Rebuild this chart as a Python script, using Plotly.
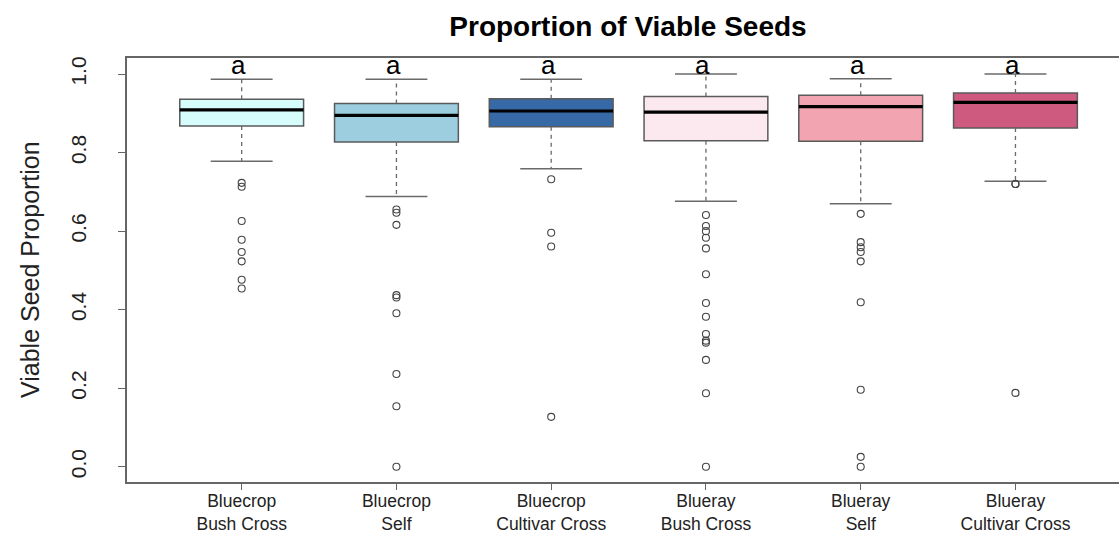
import plotly.graph_objects as go

categories = ["Bluecrop<br>Bush Cross", "Bluecrop<br>Self", "Bluecrop<br>Cultivar Cross",
              "Blueray<br>Bush Cross", "Blueray<br>Self", "Blueray<br>Cultivar Cross"]
positions = [1, 2, 3, 4, 5, 6]
q1 = [0.868, 0.827, 0.866, 0.830, 0.829, 0.863]
median = [0.909, 0.895, 0.906, 0.903, 0.917, 0.928]
q3 = [0.936, 0.925, 0.937, 0.943, 0.946, 0.952]
lower_whisker = [0.778, 0.688, 0.759, 0.676, 0.670, 0.727]
upper_whisker = [0.987, 0.987, 0.987, 1.000, 0.988, 1.000]
outliers = [
    [0.723, 0.713, 0.626, 0.578, 0.547, 0.523, 0.476, 0.454],
    [0.655, 0.647, 0.616, 0.437, 0.431, 0.391, 0.236, 0.154, 0.0],
    [0.732, 0.596, 0.561, 0.127],
    [0.641, 0.613, 0.600, 0.583, 0.556, 0.490, 0.417, 0.382, 0.338, 0.321, 0.316, 0.272, 0.187, 0.0],
    [0.644, 0.572, 0.559, 0.547, 0.523, 0.419, 0.196, 0.025, 0.0],
    [0.720, 0.720, 0.188],
]
letters = ["a", "a", "a", "a", "a", "a"]
colors = ["#D6FCFC", "#9DCEE0", "#3669A5", "#FCE9EF", "#F2A4B1", "#CF5A7F"]

SANS = "Liberation Sans, Arial, sans-serif"

fig = go.Figure()

BOX_W = 0.8
CAP_HALF = 0.2
BORDER = "#5a5a5a"

for i, p in enumerate(positions):
    fig.add_trace(go.Box(
        x=[p], q1=[q1[i]], median=[median[i]], q3=[q3[i]],
        lowerfence=[q1[i]], upperfence=[q3[i]],
        width=BOX_W, fillcolor=colors[i],
        line=dict(color=BORDER, width=1.5),
        boxpoints=False, showlegend=False, hoverinfo="skip",
    ))

# whiskers (dashed)
wx, wy = [], []
for i, p in enumerate(positions):
    wx += [p, p, None, p, p, None]
    wy += [q3[i], upper_whisker[i], None, q1[i], lower_whisker[i], None]
fig.add_trace(go.Scatter(x=wx, y=wy, mode="lines",
                         line=dict(color="#6a6a6a", width=1.3, dash="4px,4px"),
                         showlegend=False, hoverinfo="skip"))

# caps
cx, cy = [], []
for i, p in enumerate(positions):
    cx += [p - CAP_HALF, p + CAP_HALF, None, p - CAP_HALF, p + CAP_HALF, None]
    cy += [upper_whisker[i], upper_whisker[i], None, lower_whisker[i], lower_whisker[i], None]
fig.add_trace(go.Scatter(x=cx, y=cy, mode="lines",
                         line=dict(color="#6a6a6a", width=1.5),
                         showlegend=False, hoverinfo="skip"))

# medians
mx, my = [], []
for i, p in enumerate(positions):
    mx += [p - BOX_W / 2, p + BOX_W / 2, None]
    my += [median[i], median[i], None]
fig.add_trace(go.Scatter(x=mx, y=my, mode="lines",
                         line=dict(color="black", width=3.2),
                         showlegend=False, hoverinfo="skip"))

# outliers
ox, oy = [], []
for i, p in enumerate(positions):
    for v in outliers[i]:
        ox.append(p)
        oy.append(v)
fig.add_trace(go.Scatter(x=ox, y=oy, mode="markers",
                         marker=dict(symbol="circle-open", size=7, color="#444444",
                                     line=dict(width=1.1, color="#444444")),
                         showlegend=False, hoverinfo="skip"))

for i, p in enumerate(positions):
    fig.add_annotation(x=p - 0.02, y=1.022, text=letters[i], showarrow=False,
                       xanchor="center", yanchor="middle",
                       font=dict(size=26, color="black", family=SANS))

fig.add_annotation(xref="paper", yref="paper", x=0, y=0.5, xshift=-97,
                   text="Viable Seed Proportion", textangle=-90, showarrow=False,
                   xanchor="center", yanchor="middle",
                   font=dict(size=25, color="#222222", family=SANS))

fig.update_layout(
    width=1119, height=535,
    margin=dict(l=127, r=0, t=58, b=53, autoexpand=False),
    paper_bgcolor="white", plot_bgcolor="white",
    boxmode="overlay",
    title=dict(text="<b>Proportion of Viable Seeds</b>", x=628 / 1119, xanchor="center",
               y=1 - 26 / 535, yanchor="middle",
               font=dict(size=28, color="black", family=SANS)),
    font=dict(family=SANS, color="#222222"),
    xaxis=dict(range=[0.259, 6.669], tickmode="array", tickvals=positions,
               ticktext=categories, ticks="outside", ticklen=6, tickcolor="#666666",
               ticklabelstandoff=-4,
               showline=True, linecolor="#666666", linewidth=1.5, mirror=True,
               showgrid=False, zeroline=False,
               tickfont=dict(size=17.5, color="#222222", family=SANS)),
    yaxis=dict(range=[-0.039, 1.041], tickmode="array",
               tickvals=[0.0, 0.2, 0.4, 0.6, 0.8, 1.0],
               ticktext=["0.0", "0.2", "0.4", "0.6", "0.8", "1.0"],
               ticks="outside", ticklen=7, tickcolor="#666666", tickangle=-90,
               ticklabelstandoff=24,
               showline=True, linecolor="#666666", linewidth=1.5, mirror=True,
               showgrid=False, zeroline=False,
               tickfont=dict(size=21, color="#222222")),
)

fig.write_html("out.html", config={"displayModeBar": False},
               post_script="document.body.style.margin='0';document.body.style.padding='0';")
